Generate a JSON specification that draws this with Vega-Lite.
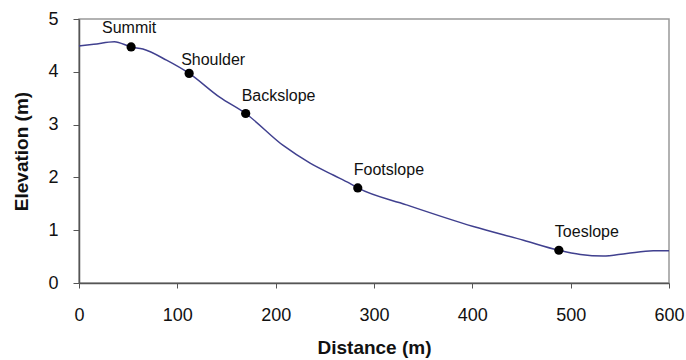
{
  "$schema": "https://vega.github.io/schema/vega-lite/v6.json",
  "width": 590,
  "height": 264,
  "autosize": {"type": "none"},
  "padding": {"left": 79, "top": 19, "right": 17, "bottom": 77},
  "background": "white",
  "config": {
    "font": "Liberation Sans",
    "view": {"stroke": "#999999", "strokeWidth": 1.5},
    "axis": {
      "grid": false,
      "labelFlush": false,
      "labelOverlap": false,
      "domainColor": "#555555",
      "domainWidth": 1.5,
      "tickColor": "#555555",
      "labelFont": "Liberation Sans",
      "labelFontSize": 18,
      "labelColor": "#111111",
      "titleFont": "Liberation Sans",
      "titleFontSize": 19,
      "titleFontWeight": "bold",
      "titleColor": "#111111"
    }
  },
  "datasets": {
    "profile": [
      {"distance": 0, "elevation": 4.49},
      {"distance": 15, "elevation": 4.52},
      {"distance": 36, "elevation": 4.57},
      {"distance": 53, "elevation": 4.47},
      {"distance": 65, "elevation": 4.43},
      {"distance": 89, "elevation": 4.22},
      {"distance": 112, "elevation": 3.97},
      {"distance": 143, "elevation": 3.52},
      {"distance": 169.5, "elevation": 3.21},
      {"distance": 208, "elevation": 2.6},
      {"distance": 235, "elevation": 2.27},
      {"distance": 259, "elevation": 2.04},
      {"distance": 275, "elevation": 1.89},
      {"distance": 283.5, "elevation": 1.8},
      {"distance": 333, "elevation": 1.48},
      {"distance": 401, "elevation": 1.07},
      {"distance": 452, "elevation": 0.81},
      {"distance": 488, "elevation": 0.62},
      {"distance": 510, "elevation": 0.54},
      {"distance": 533, "elevation": 0.51},
      {"distance": 557, "elevation": 0.56},
      {"distance": 584, "elevation": 0.61},
      {"distance": 600, "elevation": 0.61}
    ],
    "positions": [
      {"distance": 53, "elevation": 4.47, "position": "Summit"},
      {"distance": 112, "elevation": 3.97, "position": "Shoulder"},
      {"distance": 169.5, "elevation": 3.21, "position": "Backslope"},
      {"distance": 283.5, "elevation": 1.8, "position": "Footslope"},
      {"distance": 488, "elevation": 0.62, "position": "Toeslope"}
    ]
  },
  "encoding": {
    "x": {
      "field": "distance",
      "type": "quantitative",
      "scale": {"domain": [0, 600], "nice": false},
      "axis": {"title": "Distance (m)", "values": [0, 100, 200, 300, 400, 500, 600], "tickSize": 5, "labelPadding": 18, "titlePadding": 14}
    },
    "y": {
      "field": "elevation",
      "type": "quantitative",
      "scale": {"domain": [0, 5], "nice": false},
      "axis": {"title": "Elevation (m)", "values": [0, 1, 2, 3, 4, 5], "tickSize": 6, "labelPadding": 15, "titlePadding": 16}
    }
  },
  "layer": [
    {
      "data": {"name": "profile"},
      "mark": {"type": "line", "color": "#40408f", "strokeWidth": 1.5, "interpolate": "monotone"}
    },
    {
      "data": {"name": "positions"},
      "mark": {"type": "circle", "color": "#000000", "opacity": 1, "size": 85}
    },
    {
      "data": {"name": "positions"},
      "transform": [{"filter": "datum.position === 'Summit'"}],
      "mark": {"type": "text", "align": "center", "baseline": "alphabetic", "dx": -2, "dy": -14, "fontSize": 16, "color": "#111111", "font": "Liberation Sans"},
      "encoding": {"text": {"field": "position"}}
    },
    {
      "data": {"name": "positions"},
      "transform": [{"filter": "datum.position === 'Shoulder'"}],
      "mark": {"type": "text", "align": "left", "baseline": "alphabetic", "dx": -8, "dy": -8, "fontSize": 16, "color": "#111111", "font": "Liberation Sans"},
      "encoding": {"text": {"field": "position"}}
    },
    {
      "data": {"name": "positions"},
      "transform": [{"filter": "datum.position !== 'Summit' && datum.position !== 'Shoulder'"}],
      "mark": {"type": "text", "align": "left", "baseline": "alphabetic", "dx": -4, "dy": -13, "fontSize": 16, "color": "#111111", "font": "Liberation Sans"},
      "encoding": {"text": {"field": "position"}}
    }
  ]
}
